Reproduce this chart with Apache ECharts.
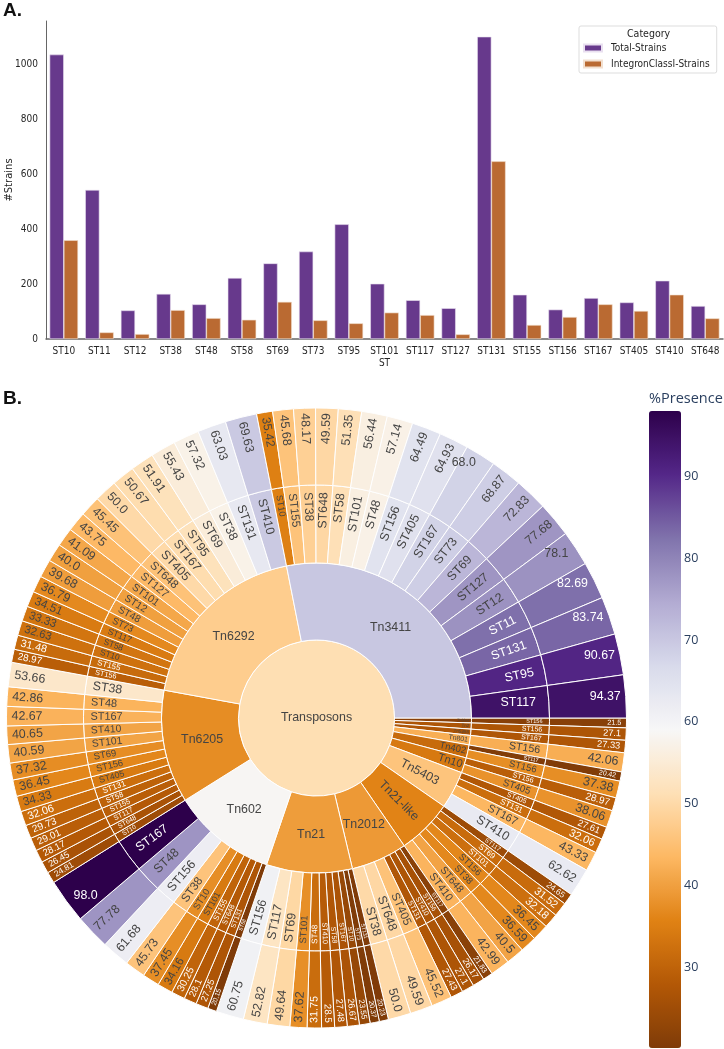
<!DOCTYPE html>
<html>
<head>
<meta charset="utf-8">
<style>html,body{margin:0;padding:0;background:#fff}#c{width:724px;height:1049px}</style>
<script src="https://cdn.jsdelivr.net/npm/echarts@6/dist/echarts.min.js"></script>
</head>
<body>
<div id="c"></div>
<script>
// ---- Panel A data ----
const stCategories = ['ST10','ST11','ST12','ST38','ST48','ST58','ST69','ST73','ST95','ST101','ST117','ST127','ST131','ST155','ST156','ST167','ST405','ST410','ST648'];
const totalStrains = [1034,542,104,164,126,222,275,318,417,201,141,112,1099,161,107,149,133,212,120];
const integronStrains = [359,24,18,105,76,70,135,68,57,96,87,17,646,51,80,126,102,161,75];
const yTicksA = 200;

// ---- Panel B data (clockwise from 3 o'clock) ----
const tnNames = ['Tn6664','Tn2','Tn5393','Tn801','Tn402','Tn10','Tn5403','Tn21-like','Tn2012','Tn21','Tn602','Tn6205','Tn6292','Tn3411'];
const stTn6664 = ['ST156'];   const pctTn6664 = ['21.5'];
const stTn2 = ['ST156'];      const pctTn2 = ['27.1'];
const stTn5393 = ['ST167'];   const pctTn5393 = ['27.33'];
const stTn801 = ['ST156'];    const pctTn801 = ['42.06'];
const stTn402 = ['ST117','ST156']; const pctTn402 = ['20.42','37.38'];
const stTn10 = ['ST156','ST405'];  const pctTn10 = ['28.97','38.06'];
const stTn5403 = ['ST405','ST131','ST167','ST410']; const pctTn5403 = ['27.61','32.06','43.33','62.62'];
const stTn21like = ['ST117','ST69','ST101','ST156','ST38','ST648','ST410']; const pctTn21like = ['24.65','31.52','32.18','36.45','36.59','40.5','42.99'];
const stTn2012 = ['ST117','ST156','ST410','ST131','ST405','ST648','ST38']; const pctTn2012 = ['21.83','26.17','27.1','27.43','45.52','49.59','50.0'];
const stTn21 = ['ST131','ST73','ST10','ST167','ST58','ST410','ST48','ST101','ST69','ST117','ST156']; const pctTn21 = ['20.23','20.37','23.55','26.67','27.48','28.5','31.75','37.62','49.64','52.82','60.75'];
const stTn602 = ['ST58','ST131','ST648','ST155','ST101','ST10','ST38','ST156','ST48','ST167']; const pctTn602 = ['20.15','27.25','28.1','30.25','34.16','37.45','45.73','61.68','77.78','98.0'];
const stTn6205 = ['ST10','ST648','ST117','ST155','ST58','ST131','ST405','ST156','ST69','ST101','ST410','ST167','ST48','ST38']; const pctTn6205 = ['24.81','26.45','28.17','29.01','29.73','32.06','34.33','36.45','37.32','40.59','40.65','42.67','42.86','53.66'];
const stTn6292 = ['ST156','ST155','ST10','ST58','ST117','ST73','ST48','ST12','ST101','ST127','ST648','ST405','ST167','ST95','ST69','ST38','ST131','ST410']; const pctTn6292 = ['28.97','31.48','32.63','33.33','34.51','36.79','39.68','40.0','41.09','43.75','45.45','50.0','50.67','51.91','55.43','57.32','63.03','69.63'];
const stTn3411 = ['ST10','ST155','ST38','ST648','ST58','ST101','ST48','ST156','ST405','ST167','ST73','ST69','ST127','ST12','ST11','ST131','ST95','ST117']; const pctTn3411 = ['35.42','45.68','48.17','49.59','51.35','56.44','57.14','64.49','64.93','68.0','68.87','72.83','77.68','78.1','82.69','83.74','90.67','94.37'];
const tnSts = [stTn6664,stTn2,stTn5393,stTn801,stTn402,stTn10,stTn5403,stTn21like,stTn2012,stTn21,stTn602,stTn6205,stTn6292,stTn3411];
const tnPcts = [pctTn6664,pctTn2,pctTn5393,pctTn801,pctTn402,pctTn10,pctTn5403,pctTn21like,pctTn2012,pctTn21,pctTn602,pctTn6205,pctTn6292,pctTn3411];
const colorbarTicks = [30,40,50,60,70,80,90];
const presenceMin = 20.15, presenceMax = 98;

// ---- Colour scale (PuOr) ----
const puOr = ['#7f3b08','#b35806','#e08214','#fdb863','#fee0b6','#f7f7f7','#d8daeb','#b2abd2','#8073ac','#542788','#2d004b'];
function hex(c){return [1,3,5].map(i=>parseInt(c.substr(i,2),16));}
function colorOf(v){
  const t = Math.max(0,Math.min(1,(v-presenceMin)/(presenceMax-presenceMin)))*(puOr.length-1);
  const i = Math.min(puOr.length-2,Math.floor(t)), f=t-i, a=hex(puOr[i]), b=hex(puOr[i+1]);
  return 'rgb('+a.map((x,k)=>Math.round(x+(b[k]-x)*f)).join(',')+')';
}
function textOf(v){return (v<32.3||v>80)?'#fff':'#444';}
function weighted(list){let s=0,w=0;list.forEach(v=>{s+=v*v;w+=v;});return s/w;}

const horizontalPct = new Set(['68.0','78.1','82.69','83.74','90.67','94.37','98.0']);
const pctDistance = {'68.0':9,'78.1':9,'82.69':7,'83.74':6,'90.67':5,'94.37':5,'98.0':9};
const horizontalSt = new Set(['Tn3411/ST117']);
const horizontalTn = new Set(['Tn3411','Tn6292','Tn6205','Tn602','Tn21','Tn2012']);
const tnChildren = tnNames.map((tn,i)=>{
  const vals = tnPcts[i].map(Number);
  const avg = weighted(vals);
  const sum = vals.reduce((a,b)=>a+b,0);
  const thinTn = sum<100;
  return {
    name: tn,
    itemStyle:{color:colorOf(avg)},
    label:{rotate:horizontalTn.has(tn)?0:'radial',fontSize:Math.min(12.4,Math.max(3.6,sum*0.165)),color:'#444',
           align:thinTn?'right':'center',distance:thinTn?2:0},
    children: tnSts[i].map((st,j)=>{
      const v = vals[j], col = colorOf(v), pct = tnPcts[i][j];
      const flatSt = horizontalSt.has(tn+'/'+st), flatPct = horizontalPct.has(pct);
      return {
        name: st,
        itemStyle:{color:col},
        label:{rotate:flatSt?0:'radial',fontSize:Math.min(12.4,Math.max(4.8,v*0.255)),color:textOf(v),
               align:'right',distance:flatSt?13:(v>=72?11:7)},
        children:[{
          name: pct,
          value: v,
          itemStyle:{color:col},
          label:{rotate:flatPct?0:'radial',fontSize:Math.min(12.4,Math.max(5.5,v*0.34)),color:textOf(v),
                 align:'right',distance:flatPct?pctDistance[pct]:5}
        }]
      };
    })
  };
});
const allVals = tnPcts.flat().map(Number);
const rootNode = {
  name:'Transposons',
  itemStyle:{color:colorOf(weighted(allVals))},
  label:{rotate:0,fontSize:12.4,color:'#444',align:'center'},
  children:tnChildren
};

const condensed = '"DejaVu Sans Condensed","Liberation Sans Narrow","DejaVu Sans",sans-serif';
const chart = echarts.init(document.getElementById('c'),null,{renderer:'canvas',width:724,height:1049});
chart.setOption({
  backgroundColor:'#fff',
  animation:false,
  title:[
    {text:'A.',left:3,top:1,padding:0,textStyle:{fontFamily:'Liberation Sans',fontWeight:'bold',fontSize:19,color:'#111'}},
    {text:'B.',left:3,top:389,padding:0,textStyle:{fontFamily:'Liberation Sans',fontWeight:'bold',fontSize:19,color:'#111'}},
    {text:'Category',left:627,top:29,padding:0,textStyle:{fontFamily:condensed,fontWeight:'normal',fontSize:10.5,color:'#262626'}},
    {text:'%Presence',left:649,top:391,padding:0,textStyle:{fontFamily:'"Open Sans"',fontWeight:'normal',fontSize:14.5,color:'#2a3f5f'}}
  ],
  legend:{
    data:['Total-Strains','IntegronClassI-Strains'],
    orient:'vertical',left:579,top:26,
    padding:[17,7,4,4],itemGap:6,itemWidth:18,itemHeight:7,
    borderColor:'#ddd',borderWidth:1,borderRadius:2,
    icon:'rect',
    textStyle:{fontFamily:condensed,fontSize:10,color:'#262626',padding:[0,0,0,4]}
  },
  visualMap:{
    type:'continuous',seriesIndex:2,show:true,min:presenceMin,max:presenceMax,
    left:649,top:411,itemWidth:32,itemHeight:637,padding:0,
    calculable:false,hoverLink:false,text:null,
    inRange:{color:puOr},
    textStyle:{color:'transparent',fontSize:1}
  },
  grid:[
    {left:46,top:21,width:677,height:318,outerBoundsMode:'none',containLabel:false},
    {left:649,top:411,width:32,height:637,show:false,outerBoundsMode:'none',containLabel:false}
  ],
  xAxis:[
    {type:'category',gridIndex:0,data:stCategories,name:'ST',nameLocation:'middle',nameGap:19,nameMoveOverlap:false,
     nameTextStyle:{fontFamily:condensed,fontSize:10,color:'#262626'},
     axisTick:{show:false},axisLine:{lineStyle:{color:'#666',width:1.5}},
     axisLabel:{interval:0,fontFamily:condensed,fontSize:10,color:'#262626',margin:7}},
    {type:'value',gridIndex:1,min:0,max:1,show:false}
  ],
  yAxis:[
    {type:'value',gridIndex:0,min:0,max:1156,interval:yTicksA,name:'#Strains',nameLocation:'middle',nameGap:32,nameMoveOverlap:false,
     nameTextStyle:{fontFamily:'"DejaVu Sans"',fontSize:10,color:'#262626'},
     axisTick:{show:false},splitLine:{show:false},
     axisLine:{show:true,lineStyle:{color:'#666',width:1}},
     axisLabel:{showMaxLabel:false,formatter:v=>String(v),fontFamily:condensed,fontSize:10,color:'#262626',margin:8}},
    {type:'value',gridIndex:1,position:'right',min:presenceMin,max:presenceMax,
     axisLine:{show:false},axisTick:{show:false},splitLine:{show:false},
     axisLabel:{customValues:colorbarTicks,fontFamily:'"Open Sans"',fontSize:12.5,color:'#2a3f5f',margin:3,showMinLabel:true,showMaxLabel:true}}
  ],
  series:[
    {name:'Total-Strains',type:'bar',xAxisIndex:0,yAxisIndex:0,data:totalStrains,barCategoryGap:'20%',barGap:'0%',
     itemStyle:{color:'#67398c',borderColor:'#e9e0f0',borderWidth:0.6},silent:true},
    {name:'IntegronClassI-Strains',type:'bar',xAxisIndex:0,yAxisIndex:0,data:integronStrains,
     itemStyle:{color:'#ba6a32',borderColor:'#f2e0d0',borderWidth:0.6},silent:true},
    {name:'bar-scale',type:'scatter',xAxisIndex:1,yAxisIndex:1,data:[],silent:true},
    {type:'sunburst',center:[316.5,718],radius:[0,310],startAngle:0,clockwise:true,sort:null,
     nodeClick:false,silent:true,
     data:[rootNode],
     itemStyle:{borderColor:'#fff',borderWidth:1},
     label:{fontFamily:'"Liberation Sans"',verticalAlign:'middle',minAngle:0,padding:0},
     emphasis:{disabled:true},
     levels:[{},{r0:0,r:78},{r0:78,r:155},{r0:155,r:233},{r0:233,r:310}]
    }
  ]
});
</script>
</body>
</html>
